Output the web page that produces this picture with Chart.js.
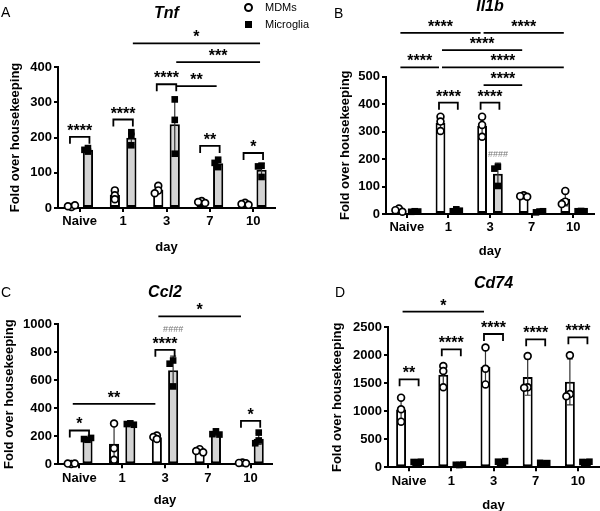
<!DOCTYPE html>
<html>
<head>
<meta charset="utf-8">
<script src="https://cdn.jsdelivr.net/npm/chart.js@4.4.0/dist/chart.umd.min.js"></script>
<style>
body { margin: 0; background: #fff; width: 600px; height: 511px; position: relative; overflow: hidden; font-family: "Liberation Sans", Arial, sans-serif; }
canvas { position: absolute; }
#legend { position: absolute; left: 243px; top: 0; font-size: 11px; color: #000; }
#legend .item { position: absolute; left: 0; white-space: nowrap; height: 14px; line-height: 14px; }
#legend .mark { position: absolute; left: 0; top: 3px; box-sizing: border-box; }
#legend .circle { width: 9px; height: 9px; border: 2px solid #000; border-radius: 50%; left: 0.5px; top: 2.5px; }
#legend .square { width: 7px; height: 7px; background: #000; left: 1.5px; top: 3.5px; }
#legend span.txt { position: absolute; left: 22px; top: 0; }
</style>
</head>
<body>
<canvas id="panelA" width="300" height="266" style="left:0;top:0"></canvas>
<canvas id="panelB" width="300" height="266" style="left:300px;top:0"></canvas>
<canvas id="panelC" width="300" height="266" style="left:0;top:250px"></canvas>
<canvas id="panelD" width="300" height="266" style="left:300px;top:250px"></canvas>
<div id="legend">
  <div class="item" style="top:0"><span class="mark circle"></span><span class="txt">MDMs</span></div>
  <div class="item" style="top:17px"><span class="mark square"></span><span class="txt">Microglia</span></div>
</div>
<script>
const categories = ['Naive', '1', '3', '7', '10']
const seriesNames = ['MDMs', 'Microglia']

// replicates per day (3 animals)
const tnfMDMs = [[3, 5, 8], [50, 36, 25], [63, 50, 42], [20, 17, 14], [15, 11, 9]]
const tnfMicroglia = [[170, 165, 160], [215, 205, 178], [308, 250, 154], [137, 128, 116], [120, 118, 88]]
const tnfTicks = [0, 100, 200, 300, 400]

const il1bMDMs = [[20, 14, 8], [354, 336, 302], [354, 324, 281], [68, 65, 63], [84, 45, 36]]
const il1bMicroglia = [[10, 8, 9], [17, 10, 12], [172, 165, 102], [9, 6, 10], [11, 10, 10]]
const il1bTicks = [0, 100, 200, 300, 400, 500]

const ccl2MDMs = [[3, 5, 6], [290, 115, 32], [205, 195, 180], [108, 95, 85], [12, 10, 8]]
const ccl2Microglia = [[175, 180, 188], [292, 287, 282], [740, 717, 555], [235, 215, 212], [226, 170, 150]]
const ccl2Ticks = [0, 200, 400, 600, 800, 1000]

const cd74MDMs = [[1244, 1036, 815], [1810, 1720, 1430], [2140, 1760, 1480], [1988, 1428, 1420], [2000, 1310, 1270]]
const cd74Microglia = [[90, 95, 100], [40, 45, 50], [90, 100, 110], [70, 80, 75], [90, 95, 100]]
const cd74Ticks = [0, 500, 1000, 1500, 2000, 2500]

// significance: brackets [day, y, label]; lines [[day, series], [day, series], y, label]; tags [day, series, y, label]
const tnfBrackets = [[0, 202, '****'], [1, 251, '****'], [2, 351, '****'], [3, 176, '**'], [4, 156, '*']]
const tnfLines = [[[1, 1], [4, 1], 467, '*'], [[2, 1], [4, 1], 414, '***'], [[2, 1], [3, 1], 346, '**']]

const il1bBrackets = [[1, 405, '****'], [2, 405, '****']]
const il1bLines = [
    [[0, 0], [1, 0], 533, '****'], [[1, 0], [4, 0], 533, '****'],
    [[1, 0], [3, 0], 596, '****'],
    [[0, 0], [2, 0], 659, '****'], [[2, 0], [4, 0], 659, '****'],
    [[2, 0], [3, 0], 469, '****']
]
const il1bTags = [[2, 1, 207, '####']]

const ccl2Brackets = [[0, 241, '*'], [2, 816, '****'], [4, 310, '*']]
const ccl2Lines = [[[0, 0], [2, 0], 431, '**'], [[2, 0], [4, 0], 1054, '*']]
const ccl2Tags = [[2, 1, 941, '####']]

const cd74Brackets = [[0, 1571, '**'], [1, 2107, '****'], [2, 2380, '****'], [3, 2286, '****'], [4, 2321, '****']]
const cd74Lines = [[[0, 0], [2, 0], 2779, '*']]

const FONT = '"Liberation Sans", Arial, sans-serif'
Chart.defaults.font.family = FONT
Chart.defaults.color = '#000'

function mean(v) {
    return v.reduce((a, b) => a + b, 0) / v.length
}

function sd(v) {
    const m = mean(v)
    return Math.sqrt(v.reduce((a, b) => a + (b - m) * (b - m), 0) / (v.length - 1))
}

const sigPlugin = {
    id: 'sig',
    afterDatasetsDraw(chart) {
        const o = chart.options.plugins.sig
        const ctx = chart.ctx
        const ys = chart.scales.y
        const barX = (g, s) => chart.getDatasetMeta(s).data[g].x

        ctx.save()
        // error bars (mean +/- SD)
        o.reps.forEach((groups, s) => {
            groups.forEach((vals, g) => {
                const x = barX(g, s)
                const m = mean(vals), d = sd(vals)
                const y1 = ys.getPixelForValue(m + d)
                const y0 = ys.getPixelForValue(Math.max(0, m - d))
                ctx.strokeStyle = '#333'
                ctx.lineWidth = 1.2
                ctx.beginPath()
                ctx.moveTo(x, y0); ctx.lineTo(x, y1)
                ctx.moveTo(x - 3, y1); ctx.lineTo(x + 3, y1)
                ctx.moveTo(x - 3, y0); ctx.lineTo(x + 3, y0)
                ctx.stroke()
            })
        })
        // individual points, nudged sideways a little when they overlap
        o.reps.forEach((groups, s) => {
            groups.forEach((vals, g) => {
                const cx = barX(g, s)
                const placed = []
                vals.forEach(v => {
                    const py = ys.getPixelForValue(v)
                    let px = cx
                    for (const dx of [0, -3.5, 3.5, -5, 5]) {
                        if (placed.every(p => Math.hypot(p[0] - (cx + dx), p[1] - py) > 3.4)) { px = cx + dx; break }
                    }
                    placed.push([px, py])
                    if (s === 0) {
                        ctx.beginPath()
                        ctx.arc(px, py, 3.4, 0, Math.PI * 2)
                        ctx.fillStyle = '#fff'
                        ctx.fill()
                        ctx.lineWidth = 1.7
                        ctx.strokeStyle = '#000'
                        ctx.stroke()
                    } else {
                        ctx.fillStyle = '#000'
                        ctx.fillRect(px - 3.3, py - 3.3, 6.6, 6.6)
                    }
                })
            })
        })

        // significance marks
        ctx.strokeStyle = '#000'
        ctx.fillStyle = '#000'
        ctx.lineWidth = 1.8
        ctx.textAlign = 'center'
        ctx.textBaseline = 'alphabetic'
        ctx.font = 'bold 16px ' + FONT
        o.brackets.forEach(([g, v, txt]) => {
            const x1 = barX(g, 0) - 1.5, x2 = barX(g, 1) + 1.5
            const y = ys.getPixelForValue(v)
            ctx.beginPath()
            ctx.moveTo(x1, y + 7); ctx.lineTo(x1, y); ctx.lineTo(x2, y); ctx.lineTo(x2, y + 7)
            ctx.stroke()
            ctx.fillText(txt, (x1 + x2) / 2, y - 1)
        })
        o.lines.forEach(([a, b, v, txt]) => {
            const x1 = barX(a[0], a[1]) + 1.5, x2 = barX(b[0], b[1]) - 1.5
            const y = ys.getPixelForValue(v)
            ctx.beginPath()
            ctx.moveTo(x1, y); ctx.lineTo(x2, y)
            ctx.stroke()
            ctx.fillText(txt, (x1 + x2) / 2, y - 1)
        })
        ctx.font = '9px ' + FONT
        ctx.fillStyle = '#777'
        ;(o.tags || []).forEach(([g, s, v, txt]) => {
            ctx.fillText(txt, barX(g, s), ys.getPixelForValue(v))
        })

        // gene title and panel letter
        const area = chart.chartArea
        ctx.fillStyle = '#000'
        ctx.font = 'italic bold 16px ' + FONT
        ctx.textBaseline = 'middle'
        ctx.fillText(o.title, (area.left + area.right) / 2, o.titleY)
        ctx.font = '14px ' + FONT
        ctx.textAlign = 'left'
        ctx.fillText(o.letter, o.letterX, o.letterY)
        ctx.restore()
    }
}

function makePanel(id, p) {
    const W = 300, H = 266
    const scaleBottom = p.dayY + 7.8
    return new Chart(document.getElementById(id), {
        type: 'bar',
        data: {
            labels: categories,
            datasets: [
                {
                    label: seriesNames[0],
                    data: p.mdms.map(mean),
                    backgroundColor: '#fff',
                    borderColor: '#000',
                    borderWidth: 2,
                    borderSkipped: false,
                    categoryPercentage: 0.76,
                    barPercentage: 0.62
                },
                {
                    label: seriesNames[1],
                    data: p.microglia.map(mean),
                    backgroundColor: '#d3d3d3',
                    borderColor: '#000',
                    borderWidth: 2,
                    borderSkipped: false,
                    categoryPercentage: 0.76,
                    barPercentage: 0.62
                }
            ]
        },
        options: {
            responsive: false,
            animation: false,
            layout: {
                padding: { left: 0, top: p.box.top, right: W - p.box.right, bottom: H - scaleBottom }
            },
            scales: {
                x: {
                    grid: { offset: false, drawOnChartArea: false, color: '#000', lineWidth: 2, tickLength: 4 },
                    border: { color: '#000', width: 2 },
                    ticks: { color: '#000', font: { size: 13, weight: 'bold' }, padding: 2, maxRotation: 0 },
                    title: { display: true, text: 'day', color: '#000', font: { size: 13, weight: 'bold' }, padding: 0 },
                    afterFit: s => { s.height = scaleBottom - p.box.bottom }
                },
                y: {
                    min: p.ticks[0],
                    max: p.ticks[p.ticks.length - 1],
                    grid: { drawOnChartArea: false, color: '#000', lineWidth: 2, tickLength: 4 },
                    border: { color: '#000', width: 2 },
                    ticks: {
                        stepSize: p.ticks[1] - p.ticks[0],
                        color: '#000',
                        font: { size: 13, weight: 'bold' },
                        padding: 2,
                        callback: v => String(v)
                    },
                    title: { display: true, text: 'Fold over housekeeping', color: '#000', font: { size: 13, weight: 'bold' }, padding: { top: p.yTitlePad, bottom: 0 } },
                    afterFit: s => { s.width = p.box.left }
                }
            },
            plugins: {
                legend: { display: false },
                tooltip: { enabled: false },
                sig: {
                    reps: [p.mdms, p.microglia],
                    brackets: p.brackets,
                    lines: p.lines,
                    tags: p.tags,
                    title: p.title,
                    titleY: p.titleY,
                    letter: p.letter,
                    letterX: p.letterX,
                    letterY: p.letterY
                }
            }
        },
        plugins: [sigPlugin]
    })
}

makePanel('panelA', {
    mdms: tnfMDMs, microglia: tnfMicroglia, ticks: tnfTicks,
    brackets: tnfBrackets, lines: tnfLines, tags: [],
    box: { left: 58, right: 275, top: 67, bottom: 208 }, dayY: 247, yTitlePad: 8,
    title: 'Tnf', titleY: 14, letter: 'A', letterX: 1, letterY: 13
})
makePanel('panelB', {
    mdms: il1bMDMs, microglia: il1bMicroglia, ticks: il1bTicks,
    brackets: il1bBrackets, lines: il1bLines, tags: il1bTags,
    box: { left: 86, right: 294, top: 76.5, bottom: 214 }, dayY: 251, yTitlePad: 38,
    title: 'Il1b', titleY: 7, letter: 'B', letterX: 34, letterY: 14
})
makePanel('panelC', {
    mdms: ccl2MDMs, microglia: ccl2Microglia, ticks: ccl2Ticks,
    brackets: ccl2Brackets, lines: ccl2Lines, tags: ccl2Tags,
    box: { left: 58, right: 272, top: 74, bottom: 214.3 }, dayY: 250, yTitlePad: 2,
    title: 'Ccl2', titleY: 43, letter: 'C', letterX: 1, letterY: 43
})
makePanel('panelD', {
    mdms: cd74MDMs, microglia: cd74Microglia, ticks: cd74Ticks,
    brackets: cd74Brackets, lines: cd74Lines, tags: [],
    box: { left: 88, right: 299, top: 77.3, bottom: 217.3 }, dayY: 255, yTitlePad: 30,
    title: 'Cd74', titleY: 34, letter: 'D', letterX: 35, letterY: 43
})
</script>
</body>
</html>
